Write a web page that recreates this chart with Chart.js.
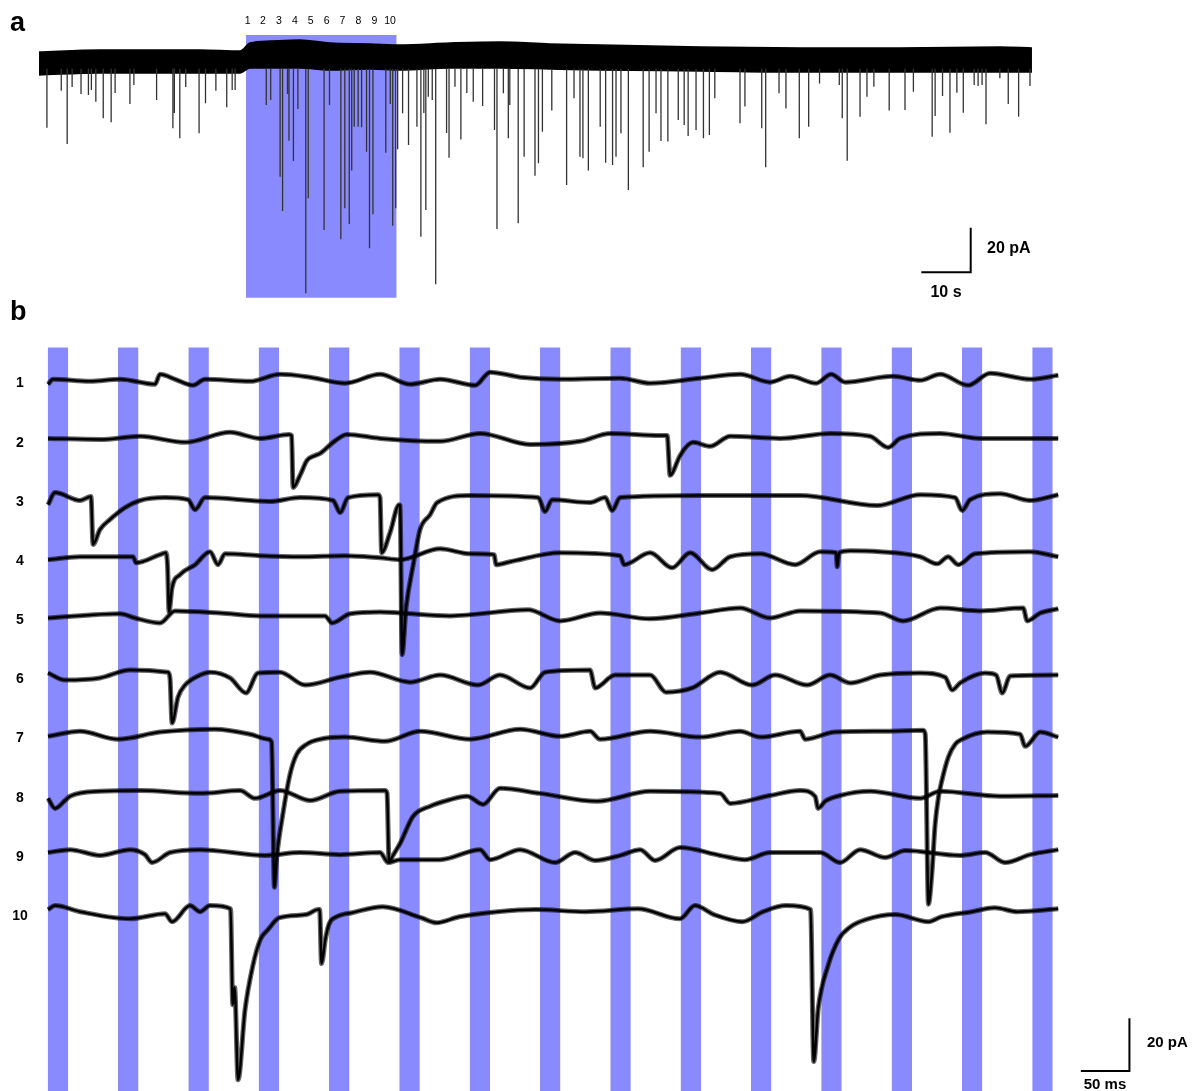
<!DOCTYPE html>
<html lang="de">
<head>
<meta charset="utf-8">
<title>Spontane und evozierte Ströme</title>
<script src="https://cdn.jsdelivr.net/npm/chart.js@4.4.1/dist/chart.umd.min.js"></script>
<style>
    body { margin: 0; background: #fff; font-family: Arial, "Liberation Sans", Helvetica, sans-serif; }
    #bild { position: relative; width: 1193px; height: 1091px; overflow: hidden; }
    canvas { position: absolute; left: 0; }
    .txt { position: absolute; color: #000; white-space: nowrap; line-height: 1; }
</style>
</head>
<body>
<div id="bild">
    <canvas id="chartA" width="1193" height="310" style="top:0"></canvas>
    <canvas id="chartB" width="1193" height="751" style="top:340px"></canvas>
</div>
<script>
// ---------- Panel a: Langzeitaufnahme (s / pA) ----------
const sweepNummern = ['1', '2', '3', '4', '5', '6', '7', '8', '9', '10'];

// Rauschband der Grundlinie (Zeit in s, obere/untere Kante in pA)
const bandZeit  = [0, 12.3, 32.6, 40.7, 42.7, 46.8, 52.8, 58.9, 67.0, 73.1, 83.2, 93.3, 103.4, 113.6, 133.8, 154.0, 174.3, 194.5, 201.0];
const bandOben  = [4.5, 5.4, 5.4, 4.9, 8.5, 9.4, 9.9, 8.5, 8.1, 7.6, 8.5, 9.0, 8.1, 7.6, 6.7, 6.3, 6.3, 6.7, 6.3];
const bandUnten = [-5.8, -4.9, -4.9, -4.9, -2.7, -2.7, -2.7, -3.6, -3.1, -3.6, -2.7, -2.7, -3.1, -3.6, -4.0, -4.5, -4.5, -4.5, -4.5];

// einzelne Ereignisse (Zeit in s, Spitze in pA)
const spitzenZeit = [1.6, 4.5, 5.7, 6.7, 8.5, 10.0, 10.6, 11.5, 13.0, 14.6, 15.4, 18.4, 19.2, 23.8, 27.1, 27.4, 28.5, 29.7, 32.4, 33.7, 35.8, 38.0, 39.1, 39.7,
    46.0, 46.9, 48.8, 49.3, 50.3, 50.6, 51.5, 52.4, 54.0, 54.5, 57.7, 58.8, 61.1, 61.9, 62.8, 63.3, 63.8, 64.6, 65.3, 66.3, 66.9, 67.6, 70.2, 71.1, 71.6, 72.2,
    72.6, 73.6, 74.8, 76.5, 77.3, 77.9, 78.3, 78.8, 79.6, 80.3, 82.5, 83.0, 84.2, 85.4, 86.6, 87.9, 89.8, 92.2, 92.7, 94.0,
    95.0, 95.3, 97.0, 98.2, 100.4, 101.1, 101.9, 103.8, 106.8, 108.3, 109.5, 110.1, 111.2, 113.6, 114.7, 116.1, 116.8, 117.8, 119.3, 122.3,
    123.5, 124.9, 125.9, 127.3, 129.4, 130.6, 131.4, 133.0, 134.5, 135.7, 136.8, 141.9, 142.9, 146.3, 147.1, 149.8, 151.2, 153.9, 155.8, 158.0,
    162.0, 162.6, 163.6, 166.2, 167.6, 169.0, 172.1, 175.3, 177.0, 180.8, 181.4, 182.9, 184.4, 185.8, 187.1, 189.3, 190.1, 190.9, 191.7, 194.5,
    196.2, 198.3, 200.6];
const spitzenAmplitude = [-29.5, -12.9, -36.8, -11.2, -14.3, -14.8, -12.6, -17.8, -25.2, -27.0, -13.9, -18.8, -10.3, -17.0, -29.7, -22.9, -34.2, -11.2, -32.0, -18.5, -12.9, -20.3, -12.6, -12.6,
    -19.3, -17.0, -51.4, -66.8, -14.3, -35.3, -44.4, -21.1, -103.7, -61.1, -75.3, -19.3, -79.5, -65.6, -72.6, -48.7, -29.0, -29.0, -29.3, -40.2, -83.5, -68.3, -40.7, -18.8, -73.4, -65.6,
    -39.1, -23.0, -37.2, -29.0, -78.3, -22.9, -66.4, -15.6, -17.0, -99.6, -31.8, -42.9, -11.1, -34.7, -13.9, -17.8, -19.7, -30.5, -74.9, -14.0,
    -34.2, -19.3, -72.3, -42.5, -51.0, -45.4, -31.3, -21.8, -55.2, -16.3, -42.5, -43.2, -48.7, -29.0, -45.2, -46.2, -42.5, -32.0, -57.4, -47.2,
    -40.2, -23.0, -35.4, -35.7, -26.0, -28.3, -33.2, -30.5, -34.2, -32.7, -16.3, -27.5, -20.0, -29.7, -47.2, -14.0, -20.8, -34.2, -29.0, -9.6,
    -10.3, -25.2, -44.3, -24.5, -15.6, -11.1, -21.8, -21.5, -13.3, -33.5, -24.2, -15.2, -31.7, -13.8, -22.7, -10.3, -10.8, -10.3, -27.9, -7.3,
    -18.8, -24.5, -10.8];

// Stimulationsphase (s) und Skalenbalken 10 s / 20 pA
const stimPhaseA = [41.9, 72.4];
const stimBereichA = [12.1, -105.7];
const skalaA = [[178.6, -94.3], [188.6, -94.3], [188.6, -74.3]];

// ---------- Panel b: zehn Einzelspuren (ms / pA) ----------
const streifenBeginn = [-0.3, 72.0, 144.4, 216.7, 289.1, 361.4, 433.8, 506.1, 578.5, 650.8, 723.2, 795.5, 867.9, 940.2, 1012.6];
const streifenDauer = 21.1;
const streifenOben = 12.1;
const sweepAbstand = 22.45;
const skalaB = [[1062.6, -262.5], [1112.6, -262.5], [1112.6, -242.5]];

const sweep1 = [[0, -1.9], [5.1, 0], [43.2, -0.8], [74.1, 0], [110.1, -1.9], [115.2, 1.9], [130.7, 0], [149.2, -2.3], [161.5, 0], [207.9, -0.8], [238.7, 1.9], [269.6, 0.8], [305.6, -1.5], [341.6, 1.9], [372.5, -1.9], [403.4, 0], [439.4, -2.3], [454.8, 2.7], [485.7, 0.8], [526.8, 0], [588.6, 0.4], [619.5, -1.5], [670.9, 0.4], [712.1, 1.9], [742.9, -1.1], [763.5, 1.1], [790.3, -1.5], [805.7, 1.9], [820.1, -1.1], [869.5, 1.1], [897.3, -0.4], [917.9, 1.9], [946.7, -2.3], [969.3, 2.3], [1010.5, 0], [1039.3, 1.5]];
const sweep2 = [[0, 0], [53.5, -0.4], [94.7, 0.8], [141.0, -1.5], [187.3, 2.3], [218.1, 0], [248.0, 1.5], [250.6, 1.1], [252.1, -18.6], [259.3, -14.0], [266.5, -8.3], [274.7, -6.5], [279.9, -5.7], [293.3, -1.5], [307.7, 1.5], [341.6, 0], [403.4, -1.1], [444.5, 1.9], [496.0, -2.3], [547.4, -1.1], [578.3, 1.9], [629.7, 1.1], [637.0, 1.1], [640.0, -14.0], [642.1, -13.3], [650.3, -6.5], [663.7, -1.5], [681.2, -3.0], [701.8, 0.8], [753.2, 0], [804.7, 1.9], [845.8, 0.8], [864.4, -3.4], [876.7, 0], [917.9, 1.9], [959.0, 0], [1039.3, 0]];
const sweep3 = [[0, -2.7], [7.2, 1.9], [32.9, -1.1], [44.2, 0.4], [46.3, -17.8], [53.5, -12.1], [63.8, -8.3], [79.2, -3.8], [94.7, -1.1], [120.4, 0], [144.1, -0.8], [151.3, -4.6], [161.5, 0], [228.4, -1.5], [259.3, 0], [293.3, -1.1], [300.5, -5.7], [308.7, 0], [339.6, 1.1], [341.6, 0], [343.2, -20.9], [351.9, -13.3], [361.2, -2.7], [362.2, -3.0], [364.3, -59.6], [368.4, -41.7], [375.6, -25.8], [382.8, -12.1], [393.1, -6.5], [400.3, -1.9], [434.2, 0.8], [504.2, 0], [511.4, -5.3], [518.6, -0.8], [557.7, -1.9], [573.2, 0], [580.4, -4.9], [588.6, 0], [670.9, 0.8], [732.6, 0.8], [773.8, 0.8], [853.0, -3.0], [897.3, 1.1], [933.3, 0], [940.5, -4.9], [948.7, -0.8], [979.6, 1.5], [1010.5, -1.1], [1039.3, 1.1]];
const sweep4 = [[0, -1.1], [32.9, 0], [87.5, 0], [90.6, -2.3], [115.2, 0.8], [121.4, 1.5], [123.0, -3.8], [124.5, -20.9], [127.6, -11.8], [135.8, -6.8], [151.3, -3.0], [166.7, 1.9], [174.9, -3.0], [182.1, 1.1], [218.1, 0.4], [259.3, 0], [305.6, 0.4], [341.6, -0.4], [362.2, -1.1], [403.4, 3.0], [434.2, 1.1], [458.9, 0.8], [461.0, -3.0], [475.4, -1.9], [526.8, 1.5], [588.6, 0.4], [592.7, -3.0], [619.5, 1.5], [642.1, -4.2], [660.6, 1.5], [683.3, -4.9], [701.8, 0], [732.6, 1.1], [768.7, -3.0], [794.4, 1.9], [810.9, 1.5], [811.9, -3.8], [814.0, 1.5], [825.3, 2.3], [856.1, 1.9], [897.3, 0], [914.8, -2.7], [926.1, 0], [936.4, -3.0], [953.9, 1.1], [1010.5, 1.9], [1039.3, 0]];
const sweep5 = [[0, -0.8], [74.1, 0.8], [89.5, -0.8], [115.2, -2.7], [130.7, 1.9], [177.0, 1.1], [218.1, 0], [285.0, 0], [292.2, -2.7], [310.8, 0.8], [341.6, 1.5], [362.2, 1.1], [413.7, 0], [493.9, 2.3], [526.8, -1.9], [568.0, 1.1], [619.5, -1.1], [670.9, 1.1], [712.1, 3.0], [742.9, -0.8], [773.8, 1.9], [856.1, 1.1], [879.8, -1.9], [917.9, 3.0], [959.0, 1.9], [1003.3, 3.0], [1007.4, -1.9], [1020.8, 1.1], [1039.3, 2.7]];
const sweep6 = [[0, 0.8], [17.5, -1.9], [53.5, -1.1], [84.4, 1.9], [123.5, 1.1], [125.5, -1.1], [127.6, -18.2], [133.8, -8.3], [141.0, -3.8], [156.4, 0], [166.7, 1.1], [187.3, -1.1], [203.7, -6.8], [216.1, 0.8], [238.7, 1.1], [264.5, -3.8], [300.5, -0.8], [331.3, 1.1], [372.5, -2.7], [403.4, 0], [442.5, -3.8], [465.1, 0], [496.0, -4.9], [511.4, 1.1], [557.7, 1.9], [562.9, -4.9], [583.4, 0], [619.5, 0], [635.9, -6.5], [662.7, -4.9], [691.5, 1.1], [724.4, -3.8], [748.1, 0], [781.0, -3.8], [804.7, 0], [825.3, -3.0], [856.1, 0], [897.3, 0.8], [923.0, -0.8], [930.2, -5.7], [938.4, -3.0], [964.2, 0.8], [975.5, 0], [981.7, -6.8], [989.9, -0.4], [1039.3, 0]];
const sweep7 = [[0, -0.8], [32.9, 1.1], [72.0, -1.9], [115.2, 0.8], [171.8, 1.9], [207.9, 0], [226.4, -1.9], [230.0, -3.0], [232.9, -58.1], [235.3, -46.7], [242.1, -29.2], [249.0, -15.2], [255.9, -7.6], [266.2, -3.8], [279.9, -1.9], [305.6, -1.1], [346.8, -2.7], [382.8, 1.1], [434.2, -1.9], [485.7, 1.9], [526.8, -0.8], [557.7, 1.1], [568.0, -1.9], [619.5, 1.1], [670.9, -1.1], [712.1, 1.1], [732.6, -1.1], [773.8, 1.1], [779.0, -1.9], [809.8, 0.8], [861.3, 1.1], [900.4, 1.5], [902.5, 0], [905.8, -64.5], [909.3, -53.1], [912.7, -34.2], [916.1, -23.9], [919.5, -17.8], [926.3, -8.7], [933.3, -3.8], [940.5, -1.9], [965.9, 0.8], [1000.2, 0], [1005.3, -4.6], [1020.8, 0.8], [1039.3, -1.1]];
const sweep8 = [[0, -1.9], [7.2, -5.7], [17.5, -2.7], [22.6, -1.1], [53.5, 0.8], [94.7, 1.1], [156.4, 0], [197.6, 1.1], [213.0, -1.9], [238.7, 1.1], [269.6, -2.7], [300.5, 0.8], [346.8, 1.1], [348.8, 0], [350.9, -25.8], [355.0, -23.5], [362.2, -19.0], [375.6, -8.7], [393.1, -4.9], [410.6, -2.7], [431.2, -1.1], [447.6, -4.2], [465.1, 1.9], [506.3, 0], [564.9, -3.0], [619.5, 0.8], [691.5, 0], [701.8, -3.8], [742.9, -0.8], [773.8, 1.1], [789.2, -1.1], [792.3, -5.7], [799.5, -3.0], [815.0, -0.8], [845.8, 0.8], [897.3, -1.9], [917.9, 0.8], [979.6, -1.1], [1039.3, -0.8]];
const sweep9 = [[0, 0], [22.6, 1.1], [53.5, -1.1], [84.4, 1.1], [99.8, -0.8], [107.0, -3.8], [125.5, 0], [156.4, 1.1], [223.3, -1.1], [259.3, 0], [300.5, -0.8], [341.6, 0], [349.9, -3.8], [362.2, -2.7], [403.4, -2.7], [444.5, 1.1], [454.8, -2.7], [485.7, 1.1], [521.7, -3.8], [542.3, 0], [562.9, -3.0], [588.6, -1.1], [609.2, 1.1], [624.6, -3.0], [650.3, 1.9], [691.5, -1.1], [717.2, -2.7], [742.9, 0], [794.4, 0], [815.0, -3.8], [835.5, 1.1], [861.3, -1.9], [881.9, 0.8], [938.4, -1.1], [964.2, 0], [984.8, -3.8], [1010.5, -0.8], [1039.3, 1.1]];
const sweep10 = [[0, 0.8], [7.2, 2.3], [32.9, 0], [84.4, -2.7], [120.4, -0.8], [127.6, -3.8], [146.1, 2.3], [156.4, 0], [166.7, 2.3], [187.8, 1.1], [190.1, -35.3], [192.0, -28.8], [195.5, -63.8], [202.7, -37.2], [210.5, -20.9], [218.4, -10.6], [226.3, -6.8], [238.1, -2.3], [265.7, -1.1], [277.8, 0.8], [279.5, 0.8], [281.4, -19.7], [285.3, -10.6], [289.2, -4.6], [297.2, -1.9], [312.8, -0.4], [344.4, 1.9], [383.8, -2.3], [399.6, -4.2], [423.1, -1.9], [462.5, 0], [501.9, 0.8], [553.1, 0], [607.0, 1.1], [650.0, -2.7], [665.6, 2.3], [685.1, -1.1], [714.4, -3.8], [735.8, 0], [759.3, 2.3], [784.6, 0.8], [787.8, -56.9], [792.4, -36.8], [802.2, -20.9], [813.9, -10.2], [825.7, -5.7], [841.3, -3.0], [871.8, -1.1], [905.6, -3.8], [919.3, -1.9], [950.6, 0], [974.0, 1.5], [997.4, 0], [1039.3, 1.1]];

const sweeps = [sweep1, sweep2, sweep3, sweep4, sweep5, sweep6, sweep7, sweep8, sweep9, sweep10];

// Farben
const stimBlau = 'rgb(138, 138, 255)';
const spurFarbe = '#000';

// Gemeinsame Optionen: keine Achsen, keine Legende
function optionen(xMin, xMax, yMin, yMax) {
    return {
        responsive: false,
        animation: false,
        events: [],
        layout: { padding: 0 },
        plugins: { legend: { display: false }, tooltip: { enabled: false } },
        elements: { point: { radius: 0 }, line: { tension: 0 } },
        scales: {
            x: { type: 'linear', min: xMin, max: xMax, display: false },
            y: { type: 'linear', min: yMin, max: yMax, display: false }
        }
    };
}

function punkte(paare) {
    return paare.map(p => ({ x: p[0], y: p[1] }));
}

// ---------- Chart a ----------
const spitzenDaten = [];
spitzenZeit.forEach((t, i) => {
    spitzenDaten.push({ x: t, y: -3 }, { x: t, y: spitzenAmplitude[i] }, { x: t, y: null });
});

new Chart(document.getElementById('chartA'), {
    type: 'line',
    data: {
        datasets: [
            {
                data: [{ x: stimPhaseA[0], y: stimBereichA[0] }, { x: stimPhaseA[1], y: stimBereichA[0] }],
                borderWidth: 0,
                backgroundColor: stimBlau,
                fill: { value: stimBereichA[1] },
                order: 10
            },
            {
                data: bandZeit.map((t, i) => ({ x: t, y: bandOben[i] })),
                borderColor: spurFarbe,
                borderWidth: 1.5,
                backgroundColor: spurFarbe,
                fill: '+1',
                cubicInterpolationMode: 'monotone',
                order: 2
            },
            {
                data: bandZeit.map((t, i) => ({ x: t, y: bandUnten[i] })),
                borderColor: spurFarbe,
                borderWidth: 1.5,
                fill: false,
                cubicInterpolationMode: 'monotone',
                order: 2
            },
            {
                data: spitzenDaten,
                borderColor: '#333',
                borderWidth: 1.3,
                spanGaps: false,
                fill: false,
                order: 1
            },
            {
                data: punkte(skalaA),
                borderColor: '#000',
                borderWidth: 2,
                fill: false,
                order: 0
            }
        ]
    },
    options: optionen(-7.9, 233.6, -111.2, 27.8)
});

// ---------- Chart b ----------
const datensaetzeB = [];

streifenBeginn.forEach(t => {
    datensaetzeB.push({
        data: [{ x: t, y: streifenOben }, { x: t + streifenDauer, y: streifenOben }],
        borderWidth: 0,
        backgroundColor: stimBlau,
        fill: 'start',
        order: 10
    });
});

sweeps.forEach((sweep, i) => {
    const verschoben = sweep.map(p => ({ x: p[0], y: p[1] - i * sweepAbstand }));
    // breiter, dunkler Saum fuer das Rauschband
    datensaetzeB.push({
        data: verschoben,
        borderColor: 'rgba(0, 0, 0, 0.6)',
        borderWidth: 5,
        borderJoinStyle: 'round',
        cubicInterpolationMode: 'monotone',
        fill: false,
        order: 2
    });
    datensaetzeB.push({
        data: verschoben,
        borderColor: spurFarbe,
        borderWidth: 2.5,
        borderJoinStyle: 'round',
        cubicInterpolationMode: 'monotone',
        fill: false,
        order: 1
    });
});

datensaetzeB.push({
    data: punkte(skalaB),
    borderColor: '#000',
    borderWidth: 2,
    fill: false,
    order: 0
});

new Chart(document.getElementById('chartB'), {
    type: 'line',
    data: { datasets: datensaetzeB },
    options: optionen(-49.4, 1178.0, -270.1, 14.9)
});

// ---------- Beschriftungen als echter Text ----------
const bild = document.getElementById('bild');

function text(inhalt, x, grundlinie, groesse, fett, ausrichtung) {
    const el = document.createElement('div');
    el.className = 'txt';
    el.textContent = inhalt;
    el.style.fontSize = groesse + 'px';
    el.style.fontWeight = fett ? 'bold' : 'normal';
    el.style.top = (grundlinie - 0.85 * groesse) + 'px';
    el.style.left = x + 'px';
    if (ausrichtung === 'mitte') el.style.transform = 'translateX(-50%)';
    bild.appendChild(el);
}

text('a', 10, 32, 27, true);
text('b', 10, 321, 27, true);

const nummernX = [247.7, 263, 279, 295, 310.7, 326.7, 342.3, 358.3, 374.3, 390];
sweepNummern.forEach((n, i) => text(n, nummernX[i], 24, 10.5, false, 'mitte'));

text('20 pA', 987, 254, 16, true);
text('10 s', 946, 298, 16, true, 'mitte');

sweepNummern.forEach((n, i) => text(n, 20, 379.3 + i * 59.16 + 8, 14, true, 'mitte'));

text('20 pA', 1147, 1047, 15, true);
text('50 ms', 1105, 1088.5, 15, true, 'mitte');
</script>
</body>
</html>
